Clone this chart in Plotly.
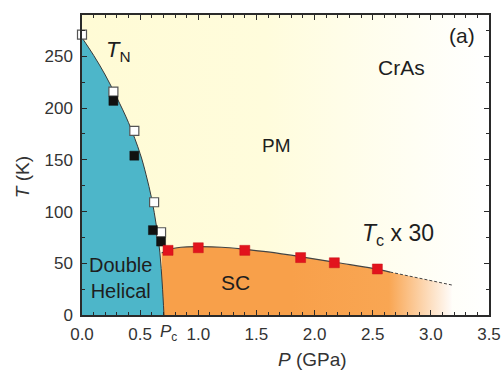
import plotly.graph_objects as go

# ---- data ----
# Neel boundary (phase line) T_N(P)
tn_line_P = [0.0, 0.1, 0.2, 0.3, 0.4, 0.5, 0.55, 0.6, 0.64, 0.67, 0.69, 0.705]
tn_line_T = [268, 251, 232, 210, 186, 156, 136, 112, 86, 60, 30, 0]

# open squares (T_N, method 1)
open_P = [0.0, 0.27, 0.45, 0.62, 0.68]
open_T = [271, 216, 178, 109, 80]
# filled black squares (T_N, method 2)
black_P = [0.27, 0.45, 0.61, 0.68]
black_T = [207, 154, 82, 71]
# red squares (Tc x 30)
red_P = [0.74, 1.0, 1.40, 1.88, 2.17, 2.54]
red_T = [62.5, 65, 62.5, 55.5, 50.5, 44.5]

# Tc dome line (solid) and its dashed extrapolation
tc_line_P = [0.685, 0.75, 0.85, 1.0, 1.2, 1.4, 1.6, 1.9, 2.2, 2.5, 2.65]
tc_line_T = [60, 63.5, 65.5, 66, 65.5, 63.5, 61, 56, 50.5, 45, 41.5]
tc_dash_P = [2.65, 2.9, 3.18]
tc_dash_T = [41.5, 35.5, 29]

x_range = [0, 3.5]
y_range = [0, 290]

font_family = "Liberation Sans, Arial, sans-serif"
txt = "#1e1e1e"

fig = go.Figure()

# PM background (pale yellow fading to white)
fig.add_trace(go.Scatter(
    x=[x_range[0], x_range[1], x_range[1], x_range[0], x_range[0]],
    y=[y_range[0], y_range[0], y_range[1], y_range[1], y_range[0]],
    mode="none", fill="toself",
    fillgradient=dict(type="horizontal",
                      colorscale=[[0, "#fffbd5"], [0.45, "#fffcdc"], [1, "#ffffff"]],
                      start=x_range[0], stop=x_range[1]),
    hoverinfo="skip", showlegend=False))

# SC region (orange fading out)
fig.add_trace(go.Scatter(
    x=tc_line_P + tc_dash_P[1:], y=tc_line_T + tc_dash_T[1:],
    mode="none", fill="tozeroy", line_shape="spline",
    fillgradient=dict(type="horizontal",
                      colorscale=[[0, "#f8a04a"], [0.6, "#f9a653"], [1, "#ffffff"]],
                      start=1.8, stop=3.2),
    hoverinfo="skip", showlegend=False))

# Double helical region (blue)
fig.add_trace(go.Scatter(
    x=tn_line_P, y=tn_line_T, mode="lines", fill="tozeroy",
    fillcolor="#4db6c9", line=dict(color="#3a3a3a", width=1, shape="spline"),
    hoverinfo="skip", showlegend=False))

# Tc line
fig.add_trace(go.Scatter(
    x=tc_line_P, y=tc_line_T, mode="lines",
    line=dict(color="#444444", width=1.2, shape="spline"),
    hoverinfo="skip", showlegend=False))
fig.add_trace(go.Scatter(
    x=tc_dash_P, y=tc_dash_T, mode="lines",
    line=dict(color="#444444", width=1, dash="3px,2px"),
    hoverinfo="skip", showlegend=False))

# markers
fig.add_trace(go.Scatter(
    x=open_P, y=open_T, mode="markers",
    marker=dict(symbol="square", size=9, color="white",
                line=dict(color="#555555", width=1.2)),
    cliponaxis=False, showlegend=False))
fig.add_trace(go.Scatter(
    x=black_P, y=black_T, mode="markers",
    marker=dict(symbol="square", size=9, color="#111111",
                line=dict(color="#111111", width=0.5)),
    showlegend=False))
fig.add_trace(go.Scatter(
    x=red_P, y=red_T, mode="markers",
    marker=dict(symbol="square", size=10, color="#e2141d",
                line=dict(color="#c81018", width=0.5)),
    showlegend=False))

axis_common = dict(showline=True, linecolor="#2a2a2a", linewidth=1.5, mirror="ticks",
                   ticks="inside", ticklen=5, tickwidth=1.2, tickcolor="#2a2a2a",
                   showgrid=False, zeroline=False, automargin=False,
                   tickfont=dict(family=font_family, size=17, color="#333333"))

fig.update_xaxes(range=x_range, dtick=0.5, tickformat=".1f", ticklabelstandoff=3,
                 minor=dict(dtick=0.1, ticks="inside", ticklen=3, tickcolor="#2a2a2a"),
                 **axis_common)
fig.update_yaxes(range=y_range, dtick=50, ticklabelstandoff=4,
                 minor=dict(dtick=25, ticks="inside", ticklen=3, tickcolor="#2a2a2a"),
                 **axis_common)

ann = []
def A(text, x, y, size=20, yref="y"):
    ann.append(dict(text=text, x=x, y=y, xref="x", yref=yref, showarrow=False,
                    font=dict(family=font_family, size=size, color=txt)))

A("<i>T</i><sub>N</sub>", 0.31, 255, size=22)
A("CrAs", 2.75, 239, size=21)
A("(a)", 3.27, 270, size=21)
A("PM", 1.67, 164, size=19)
A("<i>T</i><sub>c</sub> x 30", 2.72, 78, size=23)
A("SC", 1.32, 31, size=21)
A("Double<br>Helical", 0.335, 36, size=20)

ann.append(dict(text="<i>P</i><sub>c</sub>", x=0.74, xref="x", y=-0.06, yref="paper",
                yanchor="middle", showarrow=False,
                font=dict(family=font_family, size=17, color="#333333")))
ann.append(dict(text="<i>P</i> (GPa)", x=1.98, xref="x", y=-0.147, yref="paper",
                xanchor="center", yanchor="middle", showarrow=False,
                font=dict(family=font_family, size=19, color="#333333")))
ann.append(dict(text="<i>T</i> (K)", x=-0.147, xref="paper", y=0.46, yref="paper",
                xanchor="center", yanchor="middle",
                textangle=-90, showarrow=False,
                font=dict(family=font_family, size=19, color="#333333")))

fig.update_layout(
    width=502, height=374,
    margin=dict(l=82, r=13, t=15, b=59),
    paper_bgcolor="white", plot_bgcolor="white",
    annotations=ann, showlegend=False)

fig.write_html("out.html", config={"displayModeBar": False},
               post_script="document.body.style.margin='0';document.body.style.padding='0';")
